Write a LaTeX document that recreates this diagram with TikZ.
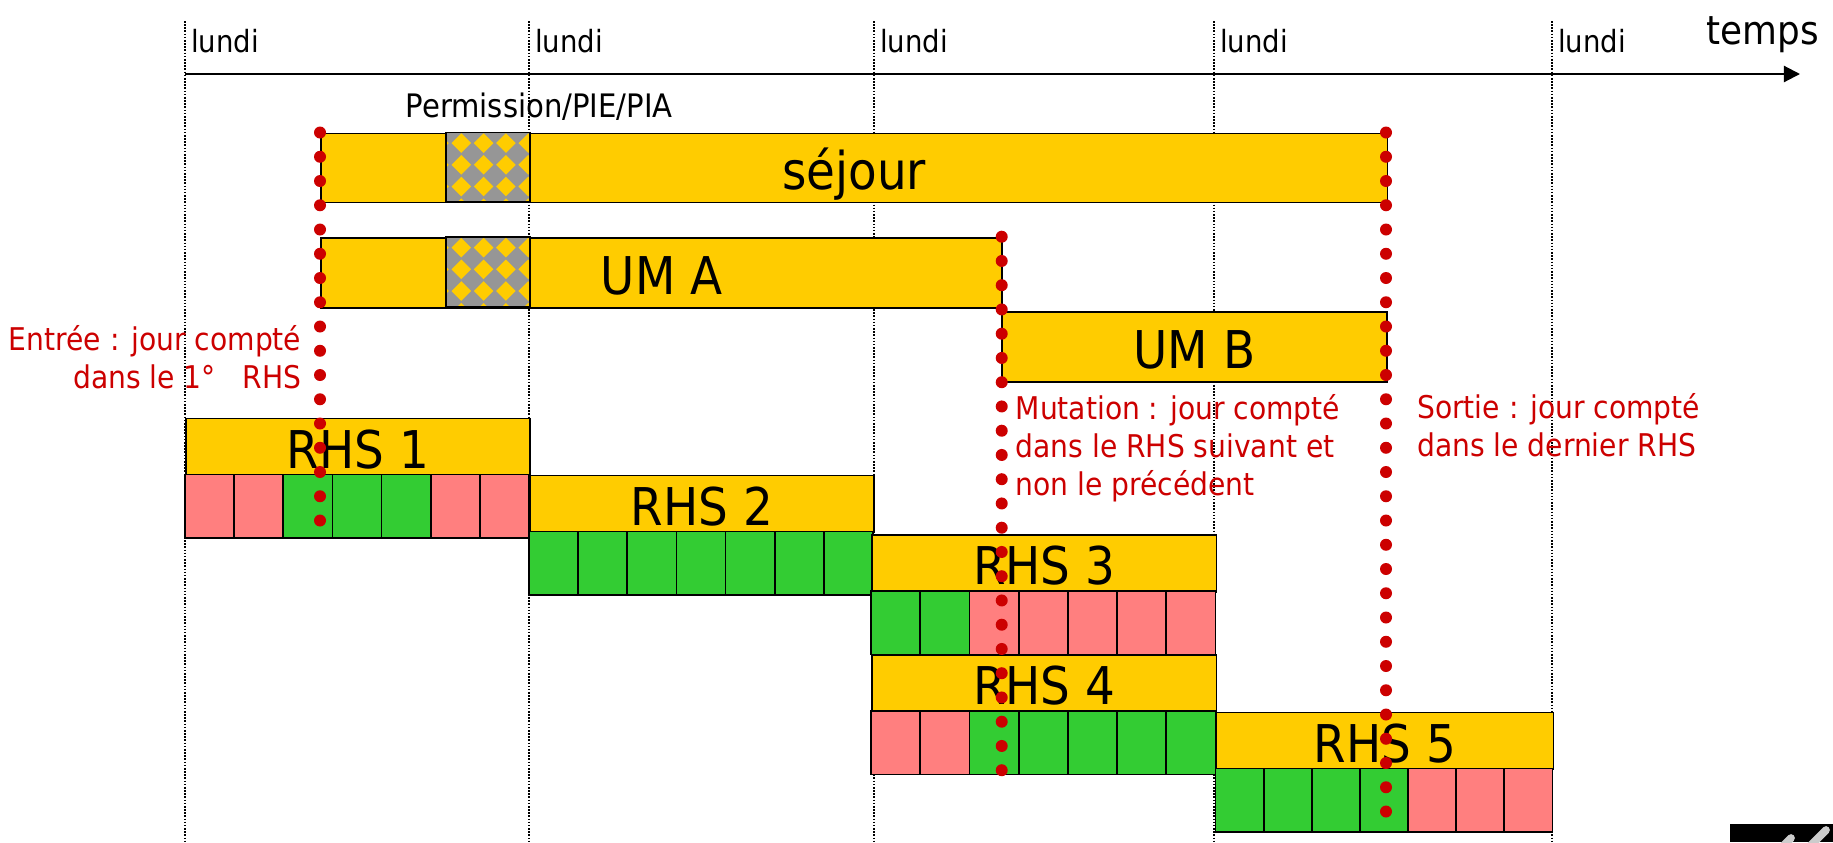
\documentclass[tikz,border=0pt]{standalone}
\usepackage{fontspec}
\setmainfont{DejaVu Sans Condensed}
\usepackage{tikz}
\usetikzlibrary{arrows.meta}

\definecolor{jaune}{HTML}{FFCC00}
\definecolor{rose}{HTML}{FF7F7F}
\definecolor{vert}{HTML}{33CC33}
\definecolor{gris}{HTML}{969696}
\definecolor{rouge}{HTML}{CC0000}

\tikzset{
  bar/.style={draw=black,line width=0.5pt,fill=jaune,anchor=north west,inner sep=0pt,
    text height=12.2pt,text depth=0pt,font=\fontsize{14.8}{18}\selectfont},
  day/.style={draw=black,line width=0.5pt},
  semaine/.style={line width=0.8pt,dash pattern=on 0.45pt off 0.45pt},
  petit/.style={inner sep=0pt,font=\fontsize{8.7}{10.5}\selectfont},
  note/.style={inner sep=0pt,text=rouge,font=\fontsize{8.9}{10.8}\selectfont},
}

\begin{document}
\begin{tikzpicture}[x=0.01cm,y=-0.01cm]
			\useasboundingbox (0,0) rectangle (1833,842);
			
			% les semaines
			\foreach \x [count=\i] in {185,529,874,1214,1552}{
				\draw[semaine] (\x,21) -- (\x,842);
				\node[petit,anchor=base west] (lundi\i) at (\x+5.5,52.7) {lundi};
			}
			\draw[line width=0.6pt,-{Triangle[length=4.6pt,width=4.6pt]}] (185,74) -- (1800,74);
			\node[inner sep=0pt,anchor=base west,font=\fontsize{11.3}{13}\selectfont] (temps) at (1706,44) {temps};
			
			% sejour et unites medicales
			\node[bar,minimum width=10.66cm,minimum height=0.69cm] (sejour) at (320,132.5) {séjour};
			\node[bar,minimum width=6.81cm,minimum height=0.70cm] (umA) at (320,237) {UM A};
			\node[bar,minimum width=3.85cm,minimum height=0.70cm] (umB) at (1001,311) {UM B};
			
			% permission
			\foreach \ptop/\ph in {132.5/69,237/70}{
				\begin{scope}
					\clip (446,\ptop) rectangle (530,\ptop+\ph);
					\fill[gris] (446,\ptop) rectangle (530,\ptop+\ph);
					\foreach \dx in {-7,15.3,37.6,59.9,82.2}
						\foreach \dy in {-11,10.6,32.3,54,75.7}
							\fill[jaune] (446+\dx-9.8,\ptop+\dy) -- ++(9.8,-9.8) -- ++(9.8,9.8) -- ++(-9.8,9.8) -- cycle;
				\end{scope}
				\draw[line width=0.5pt] (446,\ptop) rectangle (530,\ptop+\ph);
			}
			\node[inner sep=0pt,anchor=base west,font=\fontsize{9.2}{11}\selectfont] (perm) at (405,117) {Permission/PIE/PIA};
			
			% les RHS
			\foreach \n/\xl/\w/\yt/\jours in {1/185/344/417.5/{rose,rose,vert,vert,vert,rose,rose},
					2/529/344/474.5/{vert,vert,vert,vert,vert,vert,vert},
					3/871/344.5/534/{vert,vert,rose,rose,rose,rose,rose},
					4/871/344.5/654/{rose,rose,vert,vert,vert,vert,vert},
					5/1215.5/337/711.5/{vert,vert,vert,vert,rose,rose,rose}}{
				\node[bar,minimum width=\w*0.01cm,minimum height=0.57cm] (rhs\n) at (\xl,\yt) {RHS \n};
				\foreach \c [count=\i from 0] in \jours
					\draw[day,fill=\c] (\xl+\i*\w/7,\yt+57) rectangle ++(\w/7,63.5);
			}
			
			% commentaires (base = derniere ligne)
			\node[note,anchor=base east,align=right] (entree) at (302,388.3) {Entrée : jour compté\\dans le 1°\ \ \ RHS};
			\node[note,anchor=base west,align=left] (mutation) at (1015,495) {Mutation : jour compté\\dans le RHS suivant et\\non le précédent};
			\node[note,anchor=base west,align=left] (sortie) at (1416.5,456) {Sortie : jour compté\\dans le dernier RHS};
			
			% entree, mutation, sortie
			\foreach \x/\y/\n in {320/132.5/16,1001.7/236.7/22,1386/132.5/28}
				\foreach \k in {0,...,\n}
					\fill[rouge] (\x,\y+24.25*\k) circle (0.06cm);
			
			% logo
			\begin{scope}
				\clip (1730,824) rectangle (1833,842);
				\fill[black] (1730,824) rectangle (1833,842);
				\draw[gray!40,line width=2.2pt,line cap=round] (1777,852) -- (1791,838);
				\draw[gray!40,line width=2.2pt,line cap=round] (1806,850) -- (1826,830);
			\end{scope}
		\end{tikzpicture}
\end{document}
